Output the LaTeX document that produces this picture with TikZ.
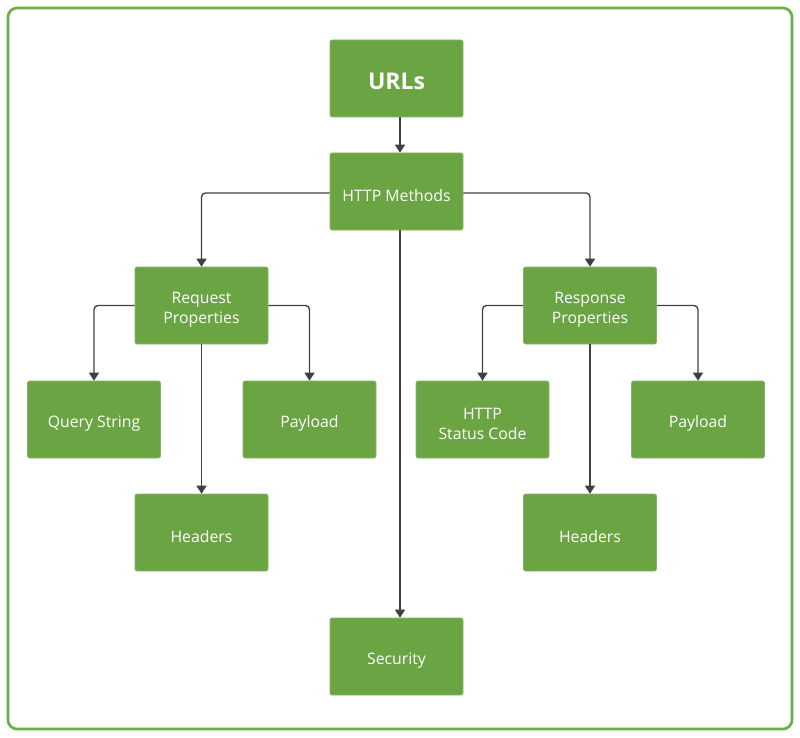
\documentclass[tikz,border=0pt]{standalone}
\usepackage{fontspec}
\setmainfont{Open Sans}
\usetikzlibrary{arrows.meta}
\definecolor{boxgreen}{HTML}{6AA443}
\definecolor{framegreen}{HTML}{6AAE47}
\definecolor{linegray}{HTML}{404040}
\begin{document}
\begin{tikzpicture}[x=1pt,y=-1pt,
  box/.style={fill=boxgreen,draw=boxgreen!80!white,line width=0.6pt,rounded corners=2pt,minimum width=133pt,minimum height=77pt,inner sep=0pt},
  lbl/.style={text=white,font=\fontsize{15.8}{20}\selectfont,align=center,inner sep=0pt,yshift=-4pt},
  big/.style={text=white,font=\bfseries\fontsize{23}{27}\selectfont,inner sep=0pt,yshift=-3pt},
  conn/.style={draw=linegray,line width=1.4pt,rounded corners=4pt,-{Triangle[length=8pt,width=10pt]}}]
\useasboundingbox (0,0) rectangle (800,738);
\draw[framegreen,line width=2.6pt,rounded corners=9pt] (8,8) rectangle (792,729);
\node[box,label={[big]center:URLs}] (urls) at (396.5,78.5) {};
\node[box,label={[lbl]center:HTTP Methods}] (http) at (396.5,191.5) {};
\node[box,label={[lbl]center:Request\\Properties}] (req) at (201.5,305.5) {};
\node[box,label={[lbl]center:Response\\Properties}] (resp) at (590,305.5) {};
\node[box,label={[lbl]center:Query String}] (qs) at (94,419.5) {};
\node[box,label={[lbl]center:Payload}] (pl1) at (309.5,419.5) {};
\node[box,label={[lbl]center:HTTP\\Status Code}] (sc) at (482.5,419.5) {};
\node[box,label={[lbl]center:Payload}] (pl2) at (698,419.5) {};
\node[box,label={[lbl]center:Headers}] (h1) at (201.5,532.5) {};
\node[box,label={[lbl]center:Headers}] (h2) at (590,532.5) {};
\node[box,label={[lbl]center:Security}] (sec) at (396.5,656.5) {};
\draw[conn] ([xshift=3.5pt]urls.south) -- ([xshift=3.5pt]http.north);
\draw[conn] ([yshift=-1.5pt]http.west) -| (req.north);
\draw[conn] ([yshift=-1.5pt]http.east) -| (resp.north);
\draw[conn] ([xshift=3.5pt]http.south) -- ([xshift=3.5pt]sec.north);
\draw[conn] (req.west) -| (qs.north);
\draw[conn] (req.east) -| (pl1.north);
\draw[conn] (req.south) -- (h1.north);
\draw[conn] (resp.west) -| (sc.north);
\draw[conn] (resp.east) -| (pl2.north);
\draw[conn] (resp.south) -- (h2.north);
\end{tikzpicture}
\end{document}
